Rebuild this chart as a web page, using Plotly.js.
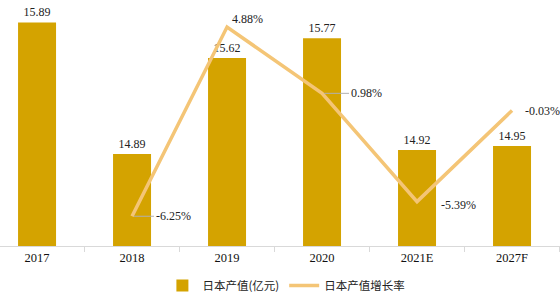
<!DOCTYPE html>
<html>
<head>
<meta charset="utf-8">
<script src="https://cdn.plot.ly/plotly-3.0.1.min.js"></script>
<style>html,body{margin:0;padding:0;background:#fff}#chart{width:560px;height:292px}</style>
</head>
<body>
<div id="chart"></div>
<script>
const categories = ['2017', '2018', '2019', '2020', '2021E', '2027F'];
const outputValues = [15.89, 14.89, 15.62, 15.77, 14.92, 14.95];
const growthCategories = ['2018', '2019', '2020', '2021E', '2027F'];
const growthRates = [-6.25, 4.88, 0.98, -5.39, -0.03];
const barName = '日本产值(亿元)';
const lineName = '日本产值增长率';

const serif = 'Liberation Serif, Times New Roman, serif';

const bars = {
  type: 'bar', x: categories, y: outputValues, name: barName,
  width: 0.4,
  marker: {color: '#D4A300'},
  text: outputValues.map(v => v.toFixed(2)),
  textposition: 'outside',
  textfont: {family: serif, size: 12, color: '#222'},
  cliponaxis: false,
  hoverinfo: 'none'
};
const line = {
  type: 'scatter', mode: 'lines', x: growthCategories, y: growthRates, yaxis: 'y2',
  name: lineName,
  line: {color: '#F4C576', width: 3.5},
  cliponaxis: false,
  hoverinfo: 'none'
};

// label placement (pixels) for growth labels
const labelPlacement = [
  {leader: true, ax: 22, ay: 0},
  {leader: false, xanchor: 'center', xshift: 20, yshift: 8},
  {leader: true, ax: 27, ay: 0},
  {leader: false, xanchor: 'left', xshift: 22, yshift: -3},
  {leader: false, xanchor: 'left', xshift: 11, yshift: 0}
];
const annotations = growthCategories.map((c, i) => {
  const p = labelPlacement[i];
  const a = {
    x: categories.indexOf(c), y: growthRates[i], xref: 'x', yref: 'y2',
    text: growthRates[i].toFixed(2) + '%',
    font: {family: serif, size: 12, color: '#222'}
  };
  if (p.leader) {
    Object.assign(a, {showarrow: true, arrowhead: 0, arrowwidth: 1, arrowcolor: '#b0b0b0',
      ax: p.ax, ay: p.ay, xanchor: 'left', standoff: 2});
  } else {
    Object.assign(a, {showarrow: false, xanchor: p.xanchor, xshift: p.xshift, yshift: p.yshift});
  }
  return a;
});

const layout = {
  width: 560, height: 292,
  margin: {l: 0, r: 0, t: 8, b: 46},
  paper_bgcolor: '#fff', plot_bgcolor: '#fff',
  showlegend: true,
  xaxis: {
    type: 'category', range: [-0.39, 5.505],
    showline: true, linecolor: '#d9d9d9', linewidth: 1,
    ticks: 'outside', tickson: 'boundaries', ticklen: 5, tickcolor: '#d9d9d9',
    tickfont: {family: serif, size: 12.5, color: '#111'},
    showgrid: false, zeroline: false, fixedrange: true
  },
  yaxis: {range: [14.19, 16.0], visible: false, showgrid: false, zeroline: false},
  yaxis2: {range: [-8, 6], overlaying: 'y', side: 'right', visible: false, showgrid: false, zeroline: false},
  legend: {
    orientation: 'h', xref: 'container', yref: 'container',
    x: 0.29, xanchor: 'left', y: 0.022, yanchor: 'middle',
    font: {family: 'Noto Sans CJK SC', size: 11.5, color: '#222'},
    itemwidth: 30, tracegroupgap: 0
  },
  annotations: annotations
};

Plotly.newPlot('chart', [bars, line], layout, {displayModeBar: false, staticPlot: true});
</script>
</body>
</html>
